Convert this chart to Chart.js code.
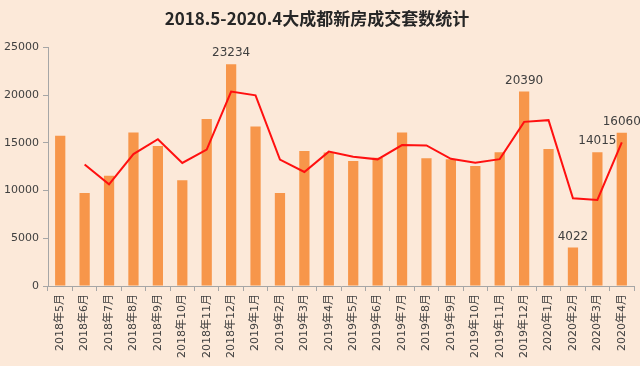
<!DOCTYPE html>
<html>
<head>
<meta charset="utf-8">
<script src="https://cdn.jsdelivr.net/npm/chart.js@4"></script>
<style>
  html, body { margin: 0; padding: 0; background: #fce9d9; }
  #wrap { width: 640px; height: 366px; }
</style>
</head>
<body>
<div id="wrap"><canvas id="grafica"></canvas></div>
<script>
// Datos
const meses = ['2018年5月','2018年6月','2018年7月','2018年8月','2018年9月','2018年10月','2018年11月','2018年12月',
  '2019年1月','2019年2月','2019年3月','2019年4月','2019年5月','2019年6月','2019年7月','2019年8月',
  '2019年9月','2019年10月','2019年11月','2019年12月','2020年1月','2020年2月','2020年3月','2020年4月'];
const ventas = [15740, 9750, 11550, 16090, 14680, 11090, 17500, 23234,
  16720, 9750, 14150, 14000, 13100, 13450, 16090, 13380,
  13280, 12570, 14010, 20390, 14360, 4022, 14015, 16060];
const mediaMovil = [null, 12740, 10650, 13820, 15380, 12890, 14300, 20370,
  19980, 13240, 11950, 14080, 13550, 13270, 14770, 14730,
  13330, 12920, 13290, 17200, 17380, 9190, 9020, 15040];
// Barras con etiqueta de valor
const conEtiqueta = [7, 19, 21, 22, 23];
const ticksY = [0, 5000, 10000, 15000, 20000, 25000];

// Plugin sencillo para dibujar las etiquetas encima de las barras
const etiquetasBarras = {
  id: 'etiquetasBarras',
  afterDatasetsDraw(chart) {
    const ctx = chart.ctx;
    const meta = chart.getDatasetMeta(1);
    ctx.save();
    ctx.font = '12px "DejaVu Sans", sans-serif';
    ctx.fillStyle = '#404040';
    ctx.textAlign = 'center';
    ctx.textBaseline = 'bottom';
    conEtiqueta.forEach(i => {
      const bar = meta.data[i];
      ctx.fillText(String(ventas[i]), bar.x, bar.y - 5);
    });
    ctx.restore();
  }
};

const ctx = document.getElementById('grafica').getContext('2d');
new Chart(ctx, {
  data: {
    labels: meses,
    datasets: [{
      type: 'line',
      label: '平均',
      data: mediaMovil,
      borderColor: '#ff1010',
      borderWidth: 2,
      pointRadius: 0,
      tension: 0,
      fill: false,
      order: 0
    }, {
      type: 'bar',
      label: '成交套数',
      data: ventas,
      backgroundColor: '#f7964a',
      barPercentage: 0.42,
      categoryPercentage: 1,
      order: 1
    }]
  },
  options: {
    responsive: true,
    maintainAspectRatio: false,
    animation: false,
    layout: { padding: { top: 4, right: 6, left: 0, bottom: 5 } },
    plugins: {
      legend: { display: false },
      tooltip: { enabled: false },
      title: {
        display: true,
        text: '2018.5-2020.4大成都新房成交套数统计',
        color: '#262626',
        font: { family: '"Noto Sans CJK SC", sans-serif', size: 17, weight: 'bold' },
        padding: { top: 4, bottom: 19 }
      }
    },
    scales: {
      x: {
        offset: true,
        grid: { display: true, offset: true, drawOnChartArea: false, drawTicks: true, tickLength: 5, color: '#a6a6a6' },
        border: { color: '#a6a6a6' },
        ticks: {
          minRotation: 90, maxRotation: 90, autoSkip: false, padding: 3,
          color: '#404040',
          font: { family: '"DejaVu Sans", "Noto Sans CJK SC", sans-serif', size: 11 }
        }
      },
      y: {
        min: 0, max: 25000,
        afterBuildTicks(scale) { scale.ticks = ticksY.map(v => ({ value: v })); },
        afterFit(scale) { scale.width = 48; },
        grid: { display: true, drawOnChartArea: false, drawTicks: true, tickLength: 5, color: '#a6a6a6' },
        border: { color: '#a6a6a6' },
        ticks: {
          padding: 4,
          color: '#404040',
          font: { family: '"DejaVu Sans", sans-serif', size: 11 },
          callback: v => String(v)
        }
      }
    }
  },
  plugins: [etiquetasBarras]
});
</script>
</body>
</html>
